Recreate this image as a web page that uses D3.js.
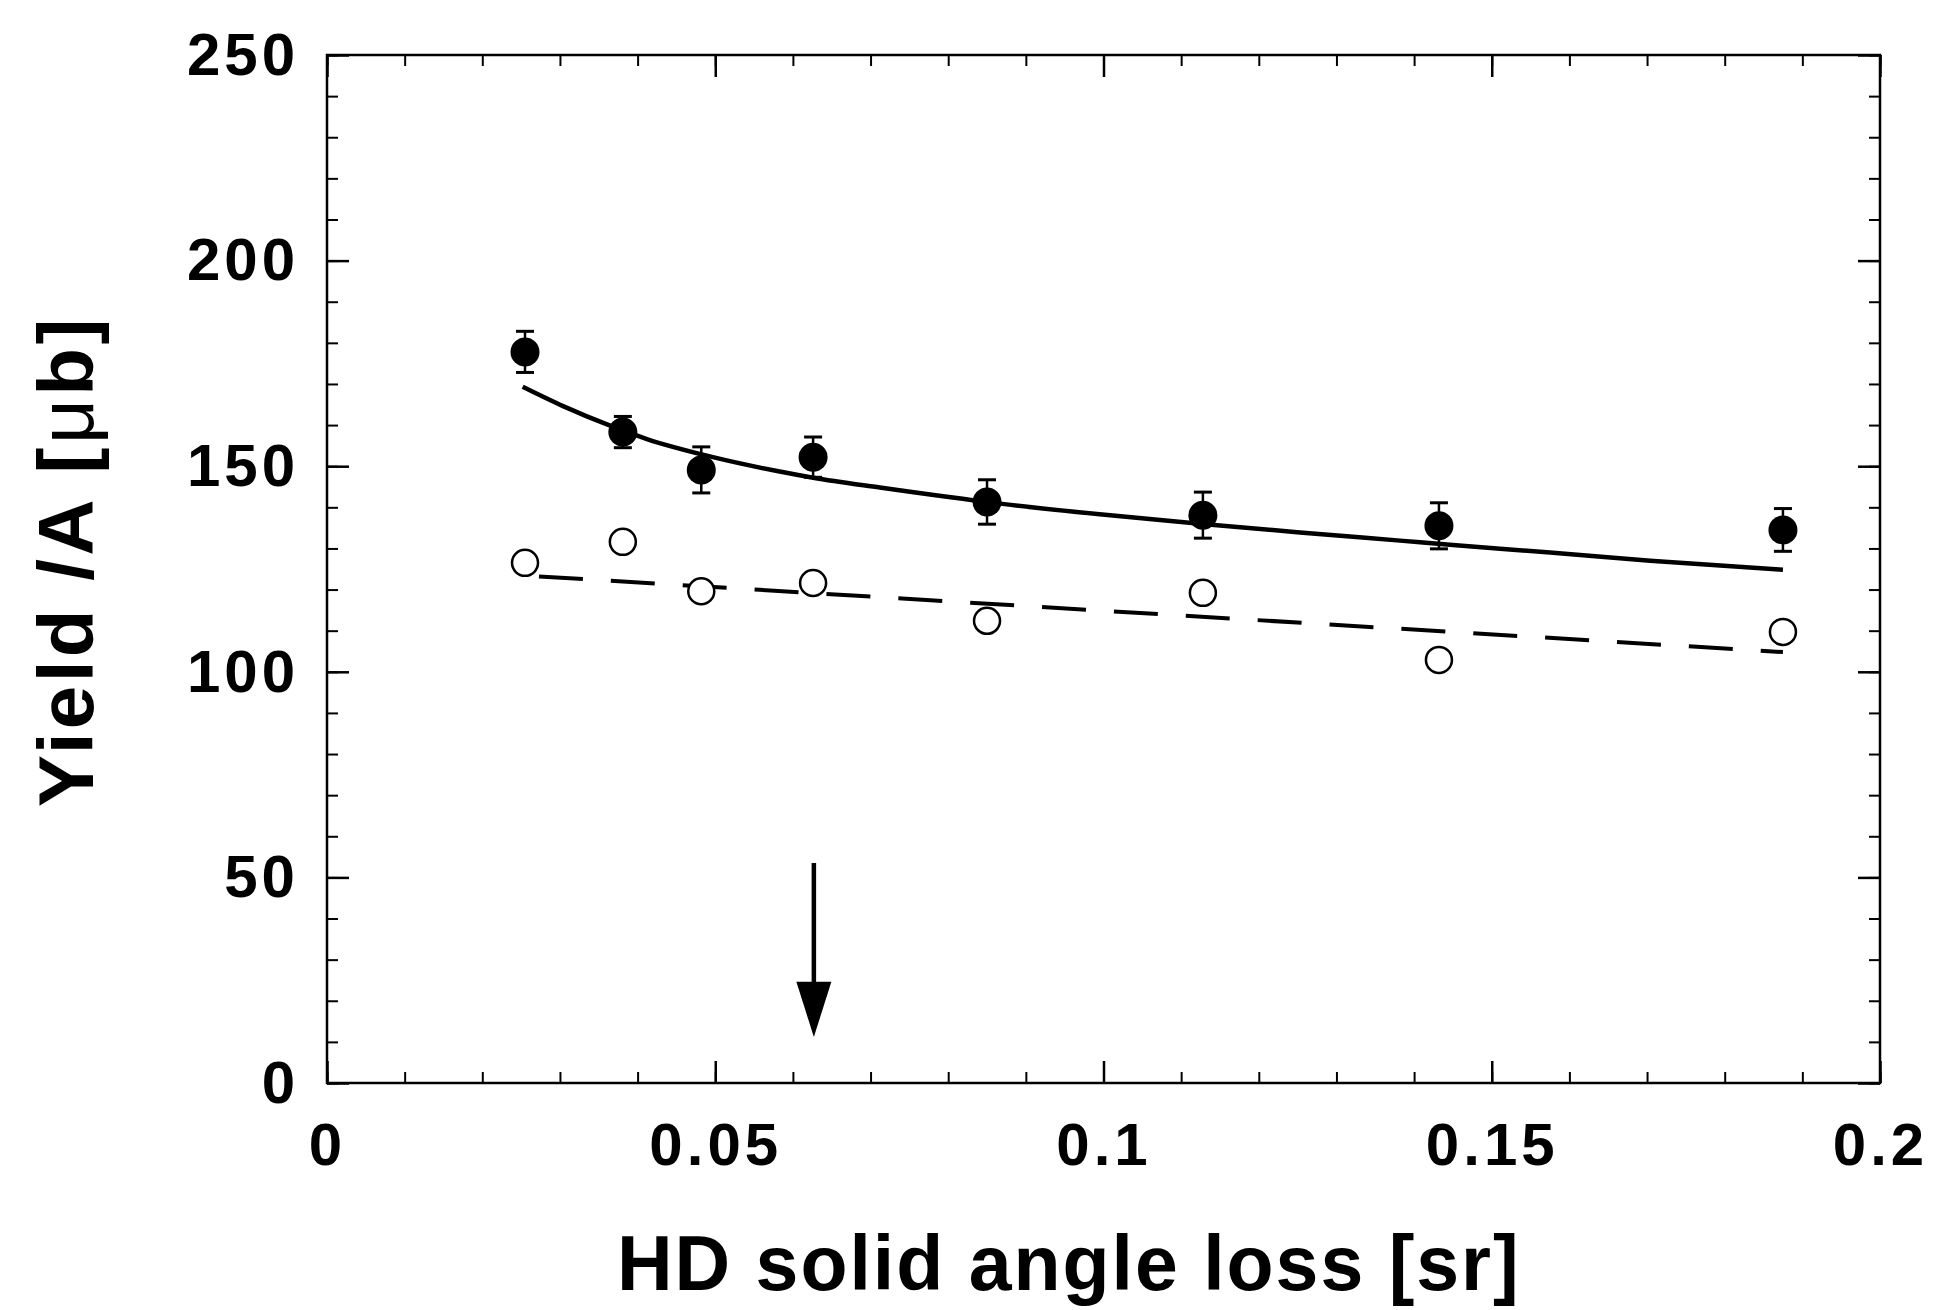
<!DOCTYPE html>
<html>
<head>
<meta charset="utf-8">
<script src="https://cdn.jsdelivr.net/npm/d3@7"></script>
<style>
body { margin: 0; background: #fff; }
text { font-family: "Liberation Sans", Arial, sans-serif; font-weight: bold; fill: #000; }
</style>
</head>
<body>
<svg width="1938" height="1310"></svg>
<script>
// tick values
var xTicks = [0, 0.05, 0.1, 0.15, 0.2],
    xTickLabels = ["0", "0.05", "0.1", "0.15", "0.2"],
    xMinor = d3.range(0, 0.2001, 0.01),
    yTicks = [0, 50, 100, 150, 200, 250],
    yMinor = d3.range(0, 251, 10);

// filled points (with errors)
var filledX = [0.0255, 0.0381, 0.0482, 0.0626, 0.0850, 0.1128, 0.1432, 0.1875],
    filledY = [177.8, 158.3, 149.1, 152.2, 141.3, 138.1, 135.5, 134.5],
    filledErr = [5.0, 3.8, 5.6, 4.9, 5.4, 5.6, 5.6, 5.2];

// open points
var openX = [0.0255, 0.0381, 0.0482, 0.0626, 0.0850, 0.1128, 0.1432, 0.1875],
    openY = [126.5, 131.6, 119.6, 121.6, 112.4, 119.2, 102.9, 109.7],
    openErr = [1.5, 1.5, 1.5, 1.5, 1.5, 1.5, 1.5, 1.5];

// fit curves
var solidX = [0.0252, 0.0304, 0.0368, 0.0412, 0.0497, 0.0583, 0.0626, 0.0712, 0.0867, 0.0995, 0.1124, 0.1253, 0.1382, 0.1446, 0.1575, 0.1704, 0.1875],
    solidY = [169.3, 164.6, 159.6, 156.6, 152.2, 148.7, 147.2, 144.8, 140.9, 138.3, 136.0, 133.9, 131.9, 130.9, 129.0, 127.0, 124.8];
var dashX = [0.0255, 0.1875],
    dashY = [123.4, 104.8];

// arrow marking the cut
var arrowX = 0.0627, arrowFrom = 53.5, arrowHead = 24.6, arrowTip = 11.2;

var svg = d3.select("svg");
svg.append("rect").attr("width", 1938).attr("height", 1310).attr("fill", "#fff");

var x = d3.scaleLinear().domain([0, 0.2]).range([327, 1880]),
    y = d3.scaleLinear().domain([0, 250]).range([1083, 55]);

function styleAxis(g, w) {
    g.select(".domain").remove();
    g.selectAll("line").attr("stroke", "#000").attr("stroke-width", w);
}

// minor ticks on all four sides
svg.append("g").attr("transform", "translate(0,1083)")
    .call(d3.axisBottom(x).tickValues(xMinor).tickSize(-11).tickFormat(""))
    .call(styleAxis, 2);
svg.append("g").attr("transform", "translate(0,55)")
    .call(d3.axisTop(x).tickValues(xMinor).tickSize(-11).tickFormat(""))
    .call(styleAxis, 2);
svg.append("g").attr("transform", "translate(327,0)")
    .call(d3.axisLeft(y).tickValues(yMinor).tickSize(-11).tickFormat(""))
    .call(styleAxis, 2);
svg.append("g").attr("transform", "translate(1880,0)")
    .call(d3.axisRight(y).tickValues(yMinor).tickSize(-11).tickFormat(""))
    .call(styleAxis, 2);

// major ticks + labels
svg.append("g").attr("transform", "translate(0,1083)")
    .call(d3.axisBottom(x).tickValues(xTicks).tickSize(-22).tickPadding(39)
        .tickFormat((d, i) => xTickLabels[i]))
    .call(styleAxis, 2.5)
    .selectAll("text").attr("font-size", 60).attr("letter-spacing", 4)
    .attr("font-family", null).attr("fill", "#000");
svg.append("g").attr("transform", "translate(0,55)")
    .call(d3.axisTop(x).tickValues(xTicks).tickSize(-22).tickFormat(""))
    .call(styleAxis, 2.5);
svg.append("g").attr("transform", "translate(327,0)")
    .call(d3.axisLeft(y).tickValues(yTicks).tickSize(-22).tickPadding(28))
    .call(styleAxis, 2.5)
    .selectAll("text").attr("font-size", 60).attr("letter-spacing", 4)
    .attr("font-family", null).attr("fill", "#000");
svg.append("g").attr("transform", "translate(1880,0)")
    .call(d3.axisRight(y).tickValues(yTicks).tickSize(-22).tickFormat(""))
    .call(styleAxis, 2.5);

// frame
svg.append("rect")
    .attr("x", x(0)).attr("y", y(250))
    .attr("width", x(0.2) - x(0)).attr("height", y(0) - y(250))
    .attr("fill", "none").attr("stroke", "#000").attr("stroke-width", 2.5);

// fits
var line = d3.line().x(d => x(d[0])).y(d => y(d[1])).curve(d3.curveMonotoneX);
svg.append("path")
    .attr("d", line(d3.zip(solidX, solidY)))
    .attr("fill", "none").attr("stroke", "#000").attr("stroke-width", 4.5);
svg.append("path")
    .attr("d", line(d3.zip(dashX, dashY)))
    .attr("fill", "none").attr("stroke", "#000").attr("stroke-width", 4)
    .attr("stroke-dasharray", "44,28").attr("stroke-dashoffset", -14);

// error bars
function errBars(xs, ys, es) {
    var g = svg.append("g").attr("stroke", "#000").attr("stroke-width", 2.5);
    xs.forEach(function(xv, i) {
        var cx = x(xv), y0 = y(ys[i] - es[i]), y1 = y(ys[i] + es[i]);
        g.append("line").attr("x1", cx).attr("x2", cx).attr("y1", y0).attr("y2", y1);
        g.append("line").attr("x1", cx - 9).attr("x2", cx + 9).attr("y1", y0).attr("y2", y0).attr("stroke-width", 3);
        g.append("line").attr("x1", cx - 9).attr("x2", cx + 9).attr("y1", y1).attr("y2", y1).attr("stroke-width", 3);
    });
}
errBars(filledX, filledY, filledErr);
errBars(openX, openY, openErr);

svg.append("g").selectAll("circle")
    .data(d3.zip(openX, openY))
    .enter().append("circle")
    .attr("cx", d => x(d[0])).attr("cy", d => y(d[1])).attr("r", 13)
    .attr("fill", "#fff").attr("stroke", "#000").attr("stroke-width", 2.5);
svg.append("g").selectAll("circle")
    .data(d3.zip(filledX, filledY))
    .enter().append("circle")
    .attr("cx", d => x(d[0])).attr("cy", d => y(d[1])).attr("r", 14.5)
    .attr("fill", "#000");

// arrow
svg.append("line")
    .attr("x1", x(arrowX)).attr("x2", x(arrowX))
    .attr("y1", y(arrowFrom)).attr("y2", y(arrowHead) + 2)
    .attr("stroke", "#000").attr("stroke-width", 4.5);
svg.append("path")
    .attr("d", d3.line()([[x(arrowX) - 17.5, y(arrowHead)], [x(arrowX) + 17.5, y(arrowHead)], [x(arrowX), y(arrowTip)]]) + "Z")
    .attr("fill", "#000");

// axis titles
svg.append("text")
    .attr("x", 617).attr("y", 1290)
    .attr("font-size", 77).attr("letter-spacing", 2)
    .text("HD solid angle loss [sr]");

var yl = svg.append("text")
    .attr("transform", "translate(93,561) rotate(-90)")
    .attr("text-anchor", "middle")
    .attr("font-size", 78).attr("letter-spacing", 3.5);
yl.append("tspan").text("Yield /A [");
yl.append("tspan").attr("font-weight", "normal").text("\u03bc");
yl.append("tspan").text("b]");
</script>
</body>
</html>
